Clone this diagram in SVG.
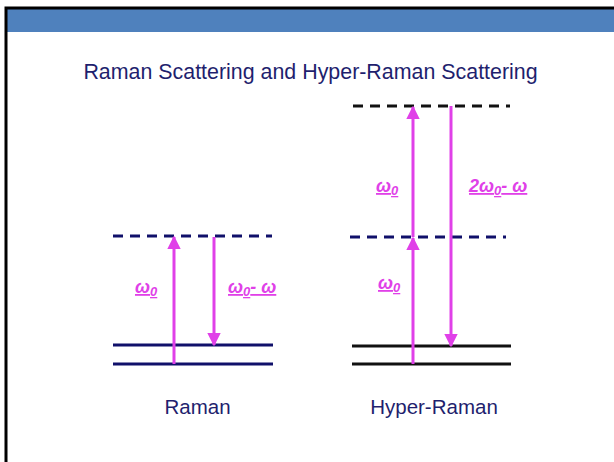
<svg xmlns="http://www.w3.org/2000/svg" width="614" height="462" viewBox="0 0 614 462">
<defs>
<style>
.t{font-family:"Liberation Sans",Arial,sans-serif;fill:#1f1f6e;font-size:20.5px}
.title{font-size:21.4px}
.lab{font-family:"Liberation Sans",Arial,sans-serif;fill:#e040e8;font-size:18px;font-style:italic;font-weight:bold;text-decoration:underline}
.sub{font-size:13px}
.dash{stroke:#10106a;stroke-width:3;stroke-dasharray:10,7;fill:none}
.dashk{stroke:#111;stroke-width:3;stroke-dasharray:10,7;fill:none}
.lvl{stroke:#10106a;stroke-width:3;fill:none}
.lvlk{stroke:#111;stroke-width:3;fill:none}
.arr{stroke:#e040e8;stroke-width:3;fill:none}
</style>
<marker id="ah" viewBox="0 0 10 10" refX="9" refY="5" markerWidth="4.5" markerHeight="4.5" orient="auto" markerUnits="strokeWidth">
<path d="M0,0 L10,5 L0,10 z" fill="#e040e8"/>
</marker>
</defs>
<rect x="0" y="0" width="614" height="462" fill="#fff"/>
<rect x="7" y="9" width="607" height="23" fill="#4f81bd"/>
<path d="M6,462 V8 H614" stroke="#000" stroke-width="3" fill="none"/>
<text class="t title" x="310.5" y="79" text-anchor="middle">Raman Scattering and Hyper-Raman Scattering</text>
<g id="levels">
<line class="dash" x1="113" y1="236" x2="272" y2="236"/>
<line class="lvl" x1="113" y1="345" x2="273" y2="345"/>
<line class="lvl" x1="113" y1="364" x2="273" y2="364"/>
<line class="dashk" x1="353" y1="106" x2="510" y2="106"/>
<line class="dash" x1="350" y1="237" x2="506" y2="237"/>
<line class="lvlk" x1="352" y1="346" x2="511" y2="346"/>
<line class="lvlk" x1="352" y1="364" x2="511" y2="364"/>
</g>
<g id="connectors">
<line class="arr" x1="174" y1="364" x2="174" y2="237" marker-end="url(#ah)"/>
<line class="arr" x1="214" y1="237" x2="214" y2="345" marker-end="url(#ah)"/>
<line class="arr" x1="413" y1="364" x2="413" y2="238" marker-end="url(#ah)"/>
<line class="arr" x1="413" y1="237" x2="413" y2="107" marker-end="url(#ah)"/>
<line class="arr" x1="451" y1="106" x2="451" y2="346" marker-end="url(#ah)"/>
</g>
<g id="labels">
<text class="lab" x="135" y="293">ω<tspan class="sub" dy="3">0</tspan></text>
<text class="lab" x="228" y="293">ω<tspan class="sub" dy="3">0</tspan><tspan dy="-3">- ω</tspan></text>
<text class="lab" x="376" y="192">ω<tspan class="sub" dy="3">0</tspan></text>
<text class="lab" x="469" y="192">2ω<tspan class="sub" dy="3">0</tspan><tspan dy="-3">- ω</tspan></text>
<text class="lab" x="378" y="289">ω<tspan class="sub" dy="3">0</tspan></text>
</g>
<g id="captions">
<text class="t" x="197.5" y="414" text-anchor="middle">Raman</text>
<text class="t" x="434" y="414" text-anchor="middle">Hyper-Raman</text>
</g>
</svg>
